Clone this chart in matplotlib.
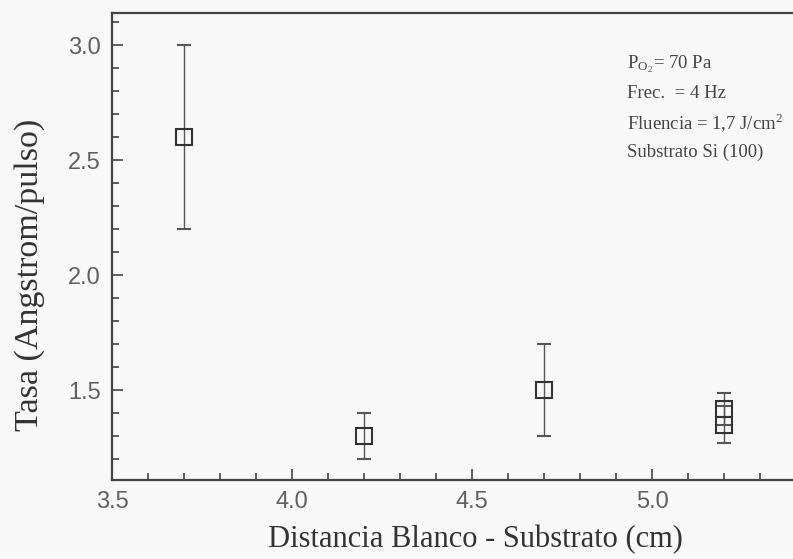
import matplotlib
matplotlib.use("Agg")
import matplotlib.pyplot as plt
from matplotlib.ticker import MultipleLocator

distancia = [3.7, 4.2, 4.7, 5.2, 5.2]
tasa = [2.6, 1.3, 1.5, 1.42, 1.35]
error = [0.4, 0.1, 0.2, 0.07, 0.08]

plt.rcParams['mathtext.fontset'] = 'stix'
serif = 'Liberation Serif'
sans = 'Liberation Sans'

W, H = 793, 559
fig = plt.figure(figsize=(W / 100, H / 100), dpi=100, facecolor='#f8f8f8')
left, right_px = 112, 112 + 720
bottom_px, top_px = 480, 13
ax = fig.add_axes([left / W, (H - bottom_px) / H, (right_px - left) / W, (bottom_px - top_px) / H])
ax.set_facecolor('#f8f8f8')

ax.errorbar(distancia, tasa, yerr=error, fmt='s', mfc='none', mec='#333333', mew=1.5,
            ms=11, ecolor='#555555', elinewidth=1.0, capsize=5, capthick=1.0)

ax.set_xlim(3.5, 5.5)
ax.set_ylim(1.11, 3.14)
ax.xaxis.set_major_locator(MultipleLocator(0.5))
ax.xaxis.set_minor_locator(MultipleLocator(0.1))
ax.yaxis.set_major_locator(MultipleLocator(0.5))
ax.yaxis.set_minor_locator(MultipleLocator(0.1))
ax.set_xticks([3.5, 4.0, 4.5, 5.0])
ax.set_yticks([1.5, 2.0, 2.5, 3.0])
ax.tick_params(which='both', direction='in', color='#444444', width=1.2,
               top=False, right=False)
ax.tick_params(which='major', length=8, labelsize=17, labelcolor='#606060', pad=8)
ax.tick_params(which='minor', length=5)
for lab in ax.get_xticklabels() + ax.get_yticklabels():
    lab.set_family(sans)

for s in ax.spines.values():
    s.set_color('#444444')
    s.set_linewidth(1.6)

ax.set_xlabel('Distancia Blanco - Substrato (cm)', family=serif, fontsize=22, color='#333333')
ax.xaxis.set_label_coords((475 - left) / 720, -(525 - bottom_px) / (bottom_px - top_px))
ax.set_ylabel('Tasa (Angstrom/pulso)', family=serif, fontsize=24.5, color='#333333')
ax.yaxis.set_label_coords((45 - left) / 720, (bottom_px - 275) / (bottom_px - top_px))

notes = [r'P$_{\mathregular{O_2}}$= 70 Pa', 'Frec.  = 4 Hz',
         r'Fluencia = 1,7 J/cm$^{\mathregular{2}}$', 'Substrato Si (100)']
for i, t in enumerate(notes):
    fig.text(627 / W, 1 - (64 + 29.5 * i) / H, t, family=serif, fontsize=13.5,
             color='#444444', ha='left', va='center')

fig.savefig('out.png', dpi=100, facecolor=fig.get_facecolor())
